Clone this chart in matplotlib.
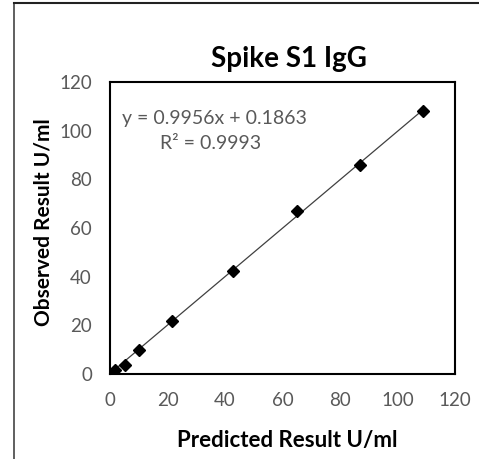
import numpy as np
import matplotlib
matplotlib.use('Agg')
import matplotlib.pyplot as plt
from matplotlib.lines import Line2D

# values
predicted = [1.7, 5.2, 10.1, 21.5, 42.9, 65.2, 87.0, 108.8]
observed = [1.6, 3.9, 9.9, 21.8, 42.5, 67.0, 85.8, 108.1]
slope = 0.9956
intercept = 0.1863
r_squared = 0.9993
ticks = [0, 20, 40, 60, 80, 100, 120]

plt.rcParams['font.family'] = ['Lato', 'DejaVu Sans']

fig = plt.figure(figsize=(4.79, 4.59), dpi=100)
ax = fig.add_axes([0.2296, 0.1852, 0.7204, 0.6362])

# outer frame lines (left and top only, like the screenshot)
fig.add_artist(Line2D([14 / 479, 14 / 479], [0, 1 - 3 / 459], color='#444444', lw=1.2))
fig.add_artist(Line2D([14 / 479, 1], [1 - 3 / 459, 1 - 3 / 459], color='#222222', lw=1.5))

x_fit = np.array([min(predicted), max(predicted)])
ax.plot(x_fit, slope * x_fit + intercept, color='#404040', lw=0.9, zorder=2)
ax.plot(predicted, observed, linestyle='none', marker='D', markersize=6.5,
        color='black', zorder=3)

ax.set_xlim(0, 120)
ax.set_ylim(0, 120)
ax.set_xticks(ticks)
ax.set_yticks(ticks)
ax.tick_params(length=0, labelsize=13.5, labelcolor='#595959', pad=13)
for s in ax.spines.values():
    s.set_linewidth(1.5)
    s.set_color('black')

ax.set_xlabel('Predicted Result U/ml', fontsize=16, fontweight='bold', va='baseline')
ax.set_ylabel('Observed Result U/ml', fontsize=15, fontweight='bold', va='baseline')
ax.xaxis.set_label_coords(0.515, -0.25)
ax.yaxis.set_label_coords(-0.174, 0.52)

ax.text(0.519, 1.051, 'Spike S1 IgG', transform=ax.transAxes, ha='center',
        va='baseline', fontsize=20, fontweight='bold')

ax.text(0.035, 0.856, 'y = %.4fx + %.4f' % (slope, intercept), transform=ax.transAxes,
        ha='left', va='baseline', fontsize=14, color='#595959')
ax.text(0.145, 0.771, 'R² = %.4f' % r_squared, transform=ax.transAxes,
        ha='left', va='baseline', fontsize=14, color='#595959')

fig.savefig('out.png', dpi=100)
